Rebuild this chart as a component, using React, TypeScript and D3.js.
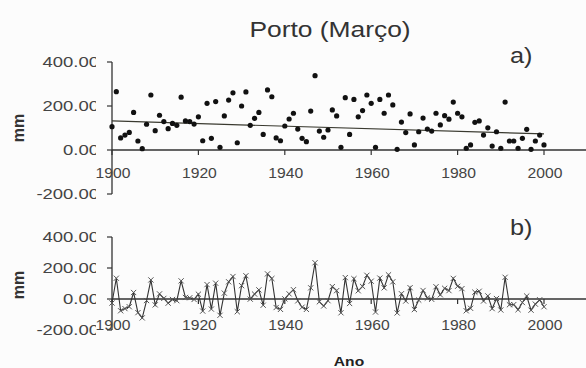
import React from "react";
import * as d3 from "d3";

// Porto, March precipitation 1900-2000 (mm)
const years = d3.range(1900, 2001);
const rain = [
  106, 265, 55, 68, 80, 171, 41, 6, 117, 250,
  88, 158, 129, 97, 121, 112, 240, 132, 129, 118,
  151, 42, 212, 53, 220, 12, 155, 227, 260, 33,
  200, 264, 112, 144, 171, 71, 273, 242, 55, 42,
  109, 141, 167, 95, 53, 38, 177, 338, 86, 58,
  91, 182, 155, 12, 238, 71, 230, 151, 179, 250,
  212, 12, 230, 167, 250, 205, 3, 127, 79, 164,
  23, 83, 145, 95, 86, 167, 114, 156, 140, 218,
  167, 151, 8, 23, 126, 132, 68, 101, 18, 83,
  8, 218, 41, 41, 8, 53, 94, 3, 41, 68,
  23,
];
// trend line end values (1900, 2000)
const trendYears = [1900, 2000];
const trendValues = [132, 73];
// panel b) anomalies (mm)
const anomaly = [
  -26, 134, -76, -62, -50, 42, -88, -122, -10, 123,
  -38, 33, 4, -27, -3, -11, 117, 10, 8, -3,
  31, -78, 93, -65, 102, -105, 38, 111, 145, -82,
  86, 150, -1, 32, 59, -40, 162, 132, -55, -67,
  1, 33, 60, -12, -53, -67, 72, 234, -18, -45,
  -11, 80, 54, -89, 138, -29, 131, 53, 81, 153,
  115, -84, 135, 72, 156, 111, -90, 34, -13, 73,
  -68, -7, 55, 6, -2, 79, 27, 69, 54, 133,
  82, 67, -76, -60, 44, 50, -13, 20, -62, 3,
  -71, 140, -37, -36, -69, -23, 19, -72, -33, -5,
  -50,
];
const yTicks = [-200, 0, 200, 400];
const xTicks = [1900, 1920, 1940, 1960, 1980, 2000];

const W = 586;
const H = 368;
const ink = "#444";

// scanned figure is stretched sideways, so text gets a horizontal scale
function T(props: any) {
  const { x, y, sx = 1.2, children, ...rest } = props;
  return (
    <text transform={`translate(${x},${y}) scale(${sx},1)`} {...rest}>
      {children}
    </text>
  );
}

function Panel(props: any) {
  const { y, x, id, label, labelY, mmY, children } = props;
  const fmt = (v: number) => v.toFixed(2); // plain hyphen minus, like the scan
  const y0 = y(0);
  return (
    <g>
      <clipPath id={id}>
        <rect x={0} y={0} width={96} height={H} />
      </clipPath>
      <line x1={x(1900)} x2={W} y1={y0} y2={y0} stroke="#333" strokeWidth={1.4} />
      <line x1={x(1900)} x2={x(1900)} y1={y(400)} y2={y(-200)} stroke="#333" strokeWidth={1.3} />
      {yTicks.map((t) => (
        <g key={t}>
          <line x1={x(1900) - 5} x2={x(1900)} y1={y(t)} y2={y(t)} stroke="#333" strokeWidth={1.2} />
          <g clipPath={`url(#${id})`}>
            <T x={99} y={y(t) + 5} sx={1.32} textAnchor="end" fontSize={14} fill={ink}>
              {fmt(t)}
            </T>
          </g>
        </g>
      ))}
      {xTicks.map((t) => (
        <g key={t}>
          <line x1={x(t)} x2={x(t)} y1={y0} y2={y0 + 5} stroke="#333" strokeWidth={1.2} />
          <T x={x(t) + 1} y={labelY} sx={1.12} textAnchor="middle" fontSize={14} fill={ink}>
            {t}
          </T>
        </g>
      ))}
      <text
        transform={`translate(24,${mmY}) rotate(-90)`}
        textAnchor="middle"
        fontSize={16}
        fontWeight="bold"
        fill="#333"
      >
        mm
      </text>
      <T x={510} y={label.y} fontSize={22} sx={1.15} fill="#333">
        {label.text}
      </T>
      {children}
    </g>
  );
}

export default function App() {
  const x = d3.scaleLinear().domain([1900, 2000]).range([112, 544]);
  const yA = d3.scaleLinear().domain([-200, 400]).range([194, 62]);
  const yB = d3.scaleLinear().domain([-200, 400]).range([330, 237]);
  const line = d3
    .line<number>()
    .x((_, i) => x(years[i]))
    .y((d) => yB(d));
  const m = 2.6;

  return (
    <svg
      width={W}
      height={H}
      style={{ position: "absolute", left: 0, top: 0, background: "#fcfcfc" }}
      fontFamily="'Liberation Sans', Arial, sans-serif"
    >
      <T x={330} y={37} textAnchor="middle" fontSize={22} sx={1.2} fill="#333">
        Porto (Março)
      </T>

      <Panel y={yA} x={x} id="clipA" label={{ text: "a)", y: 63 }} labelY={178} mmY={128}>
        <line
          x1={x(trendYears[0])}
          x2={x(trendYears[1])}
          y1={yA(trendValues[0])}
          y2={yA(trendValues[1])}
          stroke="#3a3a30"
          strokeWidth={1.2}
        />
        {rain.map((v, i) => (
          <circle key={i} cx={x(years[i])} cy={yA(v)} r={2.6} fill="#111" />
        ))}
      </Panel>

      <Panel y={yB} x={x} id="clipB" label={{ text: "b)", y: 235 }} labelY={330} mmY={285}>
        <path d={line(anomaly) || ""} fill="none" stroke="#333" strokeWidth={1.1} />
        {anomaly.map((v, i) => {
          const cx = x(years[i]);
          const cy = yB(v);
          return (
            <path
              key={i}
              d={`M${cx - m},${cy - m}L${cx + m},${cy + m}M${cx - m},${cy + m}L${cx + m},${cy - m}`}
              stroke="#555"
              strokeWidth={1}
            />
          );
        })}
      </Panel>

      <T x={349} y={366} textAnchor="middle" fontSize={13} sx={1.2} fontWeight="bold" fill="#222">
        Ano
      </T>
    </svg>
  );
}
